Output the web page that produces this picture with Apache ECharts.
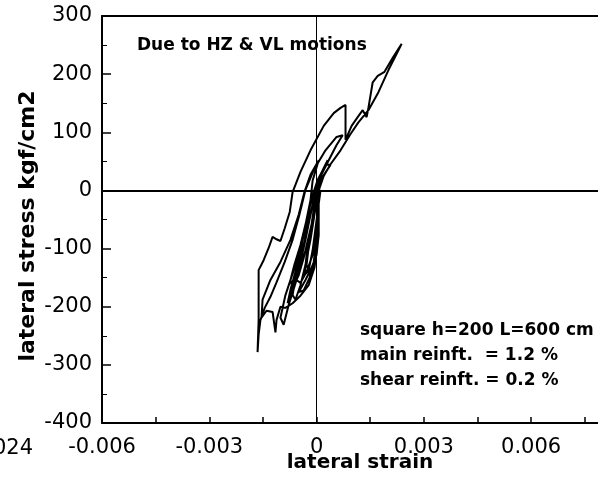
<!DOCTYPE html>
<html>
<head>
<meta charset="utf-8">
<script src="https://cdn.jsdelivr.net/npm/echarts@6/dist/echarts.min.js"></script>
<style>html,body{margin:0;padding:0;background:#fff}#c{width:598px;height:485px}</style>
</head>
<body>
<div id="c"></div>
<script>
// lateral strain (x) and lateral stress kgf/cm2 (y), traced along the hysteresis path
const strain = [
  0, 0.00003, 0, -0.00006, -0.00017, -0.00028, -0.00017, -0.00006, 0.00006, 0.00017,
  0.00031, 0.00011, -0.00008, -0.00025, -0.00042, -0.00056, -0.00073, -0.00081, -0.00064, -0.00045,
  -0.00025, -0.00008, 0.00006, 0.00034, 0.00056, 0.00073, 0.00056, 0.00025, -0.00008, -0.00031,
  -0.00048, -0.00067, -0.00089, -0.00112, -0.00129, -0.00145, -0.00157, -0.00162, -0.00165, -0.00162,
  -0.00162, -0.00162, -0.00148, -0.00134, -0.00123, -0.00112, -0.00101, -0.00089, -0.00075, -0.00067,
  -0.00045, -0.00017, 0.0002, 0.00048, 0.00067, 0.00081, 0.00081, 0.00098, 0.00115, 0.00129,
  0.0014, 0.00145, 0.00157, 0.00171, 0.0019, 0.00213, 0.00238, 0.00224, 0.00201, 0.00173,
  0.00145, 0.00117, 0.00095, 0.00067, 0.00039, 0.0002, 0.00006, 0.00006, 0.00003, -0.00006,
  -0.00022, -0.00045, -0.00067, -0.00087, -0.00101, -0.00112, -0.00115, -0.00123, -0.0014, -0.00154,
  -0.00151, -0.00129, -0.00101, -0.00073, -0.0005, -0.00034, -0.00017, 0.00006, -0.00011, -0.00017,
  -0.00031, -0.00045, -0.00056, -0.00067, -0.00059, -0.00045, -0.00031, -0.00017, -0.00006, 0.00003,
  0.00011, 0, -0.00011, -0.00022, -0.00034, -0.00028, -0.00017, -0.00003, 0,
  0.00006, 0, -0.00011, -0.00028, -0.00045, -0.00056, -0.00045, -0.00031, -0.00017, -0.00006,
  0.00011, 0.00039, 0.00025, 0.00003, -0.00011,
  -0.00028, -0.00045, -0.00062, -0.00073, -0.00067, -0.0005, -0.00036, -0.0002, -0.00008, 0, 0.00008,
  0.00006, 0.00006, 0, -0.00014, -0.00031, -0.0005, -0.00036, -0.0002, -0.00008, 0, 0.00003, 0,
  -0.00031, -0.00059, -0.00087, -0.00101, -0.00092, -0.00078, -0.00056, -0.00031, -0.00011, 0
];
const stress = [
  0, -34, -85, -123, -149, -128, -71, -25, 9, 35,
  52, 25, -3, -42, -94, -133, -171, -194, -163, -116,
  -65, -17, 18, 52, 78, 95, 92, 69, 35, 1,
  -42, -85, -123, -158, -183, -202, -223, -248, -278, -223,
  -171, -137, -120, -99, -80, -84, -87, -65, -37, -3,
  32, 69, 111, 133, 142, 147, 87, 111, 126, 138,
  126, 142, 186, 197, 204, 228, 252, 235, 207, 169,
  138, 117, 97, 69, 45, 25, 0, -42, -94, -133,
  -163, -181, -194, -202, -200, -223, -244, -209, -207, -219,
  -188, -154, -123, -85, -42, -3, 27, 52, 17, -17,
  -59, -102, -140, -180, -188, -163, -128, -85, -42, -8,
  0, -51, -103, -137, -146, -112, -69, -25, 0,
  -3, -68, -111, -140, -159, -154, -123, -85, -42, -8,
  18, 44, 44, 18, -8,
  -51, -94, -128, -154, -168, -146, -116, -77, -42, -17, 9,
  -25, -77, -111, -133, -154, -175, -172, -151, -123, -85, -42, 0,
  -68, -128, -180, -219, -231, -197, -154, -103, -51, -8
];
const xTicks = [-0.006, -0.003, 0, 0.003, 0.006];
const yTicks = [-400, -300, -200, -100, 0, 100, 200, 300];
const noteLines = ['square h=200 L=600 cm', 'main reinft.  = 1.2 %', 'shear reinft. = 0.2 %'];

const pts = strain.map((s, i) => [s, stress[i]]);
const F = '"DejaVu Sans", sans-serif';
const chart = echarts.init(document.getElementById('c'), null, {renderer: 'canvas'});

function xFmt(v) {
  for (const t of xTicks) { if (Math.abs(v - t) < 1e-9) return t === 0 ? '0' : t.toFixed(3); }
  return '';
}

chart.setOption({
  animation: false,
  backgroundColor: '#fff',
  grid: {left: 102, top: 16, bottom: 62, right: 0, containLabel: false},
  xAxis: [{
    type: 'value', min: -0.006, max: 0.00787, interval: 0.0015, position: 'bottom',
    axisLine: {show: true, onZero: false, lineStyle: {color: '#000', width: 2}},
    axisTick: {show: true, inside: true, length: 6, lineStyle: {color: '#000', width: 1.5}},
    splitLine: {show: false},
    axisLabel: {show: true, formatter: xFmt, color: '#000', fontFamily: F, fontSize: 21, margin: 14,
      showMaxLabel: false}
  }, {
    type: 'value', min: -0.006, max: 0.00787, interval: 0.0015, position: 'top',
    axisLine: {show: true, onZero: false, lineStyle: {color: '#000', width: 2}},
    axisTick: {show: false}, axisLabel: {show: false}, splitLine: {show: false}
  }],
  yAxis: {
    type: 'value', min: -400, max: 300, interval: 100,
    axisLine: {show: true, onZero: false, lineStyle: {color: '#000', width: 2}},
    axisTick: {show: true, inside: true, length: 9, lineStyle: {color: '#000', width: 1.5}},
    minorTick: {show: true, splitNumber: 2, length: 5, lineStyle: {color: '#000', width: 1}},
    splitLine: {show: false},
    axisLabel: {show: true, color: '#000', fontFamily: F, fontSize: 21, margin: 10,
      formatter: v => yTicks.includes(v) ? String(v) : ''}
  },
  series: [{
    type: 'line', data: pts, showSymbol: false, smooth: false,
    lineStyle: {color: '#000', width: 2}, z: 3,
    markLine: {
      silent: true, symbol: ['none', 'none'], label: {show: false}, animation: false,
      data: [
        {xAxis: 0, lineStyle: {color: '#000', width: 1, type: 'solid'}},
        {yAxis: 0, lineStyle: {color: '#000', width: 2, type: 'solid'}}
      ]
    }
  }],
  graphic: [
    {type: 'text', left: 137, top: 37, style: {text: 'Due to HZ & VL motions', font: 'bold 17px ' + F, fill: '#000'}},
    {type: 'text', x: 360, y: 318, style: {text: noteLines.join('\n'), font: 'bold 17px ' + F, fill: '#000', lineHeight: 25}},
    {type: 'text', x: 360, y: 463, style: {text: 'lateral strain', font: 'bold 20px ' + F, fill: '#000', align: 'center', verticalAlign: 'middle'}},
    {type: 'text', x: 28, y: 226, rotation: Math.PI / 2, style: {text: 'lateral stress kgf/cm2', font: 'bold 22px ' + F, fill: '#000', align: 'center', verticalAlign: 'middle'}},
    {type: 'text', x: 33, y: 449, style: {text: '024', font: '21px ' + F, fill: '#000', align: 'right', verticalAlign: 'middle'}}
  ]
});
</script>
</body>
</html>
